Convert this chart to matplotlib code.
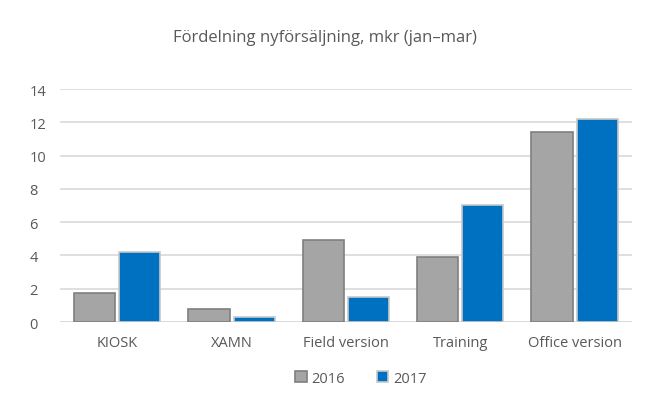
import numpy as np
import matplotlib.pyplot as plt

plt.rcParams['font.family'] = ['Open Sans', 'DejaVu Sans']

categories = ['KIOSK', 'XAMN', 'Field version', 'Training', 'Office version']
sales_2016 = [1.75, 0.78, 4.9, 3.9, 11.4]
sales_2017 = [4.2, 0.3, 1.5, 7.05, 12.2]
yticks = [0, 2, 4, 6, 8, 10, 12, 14]

fig = plt.figure(figsize=(6.5, 4.02), dpi=100)
ax = fig.add_axes([0.0923, 0.1965, 0.8797, 0.5795])

x = np.arange(len(categories))
w = 0.36
gap = 0.035
ax.bar(x - w / 2 - gap / 2, sales_2016, w, color='#a5a5a5', edgecolor='#7f7f7f', linewidth=1.2, label='2016', zorder=3)
ax.bar(x + w / 2 + gap / 2, sales_2017, w, color='#0070c0', edgecolor='#c8c8c8', linewidth=1.2, label='2017', zorder=3)

ax.set_xlim(-0.5, len(categories) - 0.5)
ax.set_ylim(0, 14)
ax.set_yticks(yticks)
ax.set_xticks(x)
ax.set_xticklabels(categories)
ax.grid(axis='y', color='#d9d9d9', linewidth=1.2, zorder=0)
for s in ax.spines.values():
    s.set_visible(False)
ax.axhline(0, color='#d9d9d9', linewidth=1.2, zorder=2)
ax.tick_params(axis='both', length=0, colors='#595959', labelsize=10.5)
ax.tick_params(axis='y', pad=22)
ax.tick_params(axis='x', pad=9)
for lbl in ax.get_yticklabels():
    lbl.set_horizontalalignment('left')

fig.text(0.5, 0.905, 'Fördelning nyförsäljning, mkr (jan–mar)', ha='center', va='center',
         fontsize=12, color='#595959')

leg = ax.legend(loc='center', ncol=2, frameon=False, fontsize=10.5, handlelength=0.8,
                handleheight=0.8, columnspacing=2.2, handletextpad=0.3)
leg.set_bbox_to_anchor((0.555, 0.057), transform=fig.transFigure)
for t in leg.get_texts():
    t.set_color('#595959')

fig.savefig('out.png', dpi=100)
